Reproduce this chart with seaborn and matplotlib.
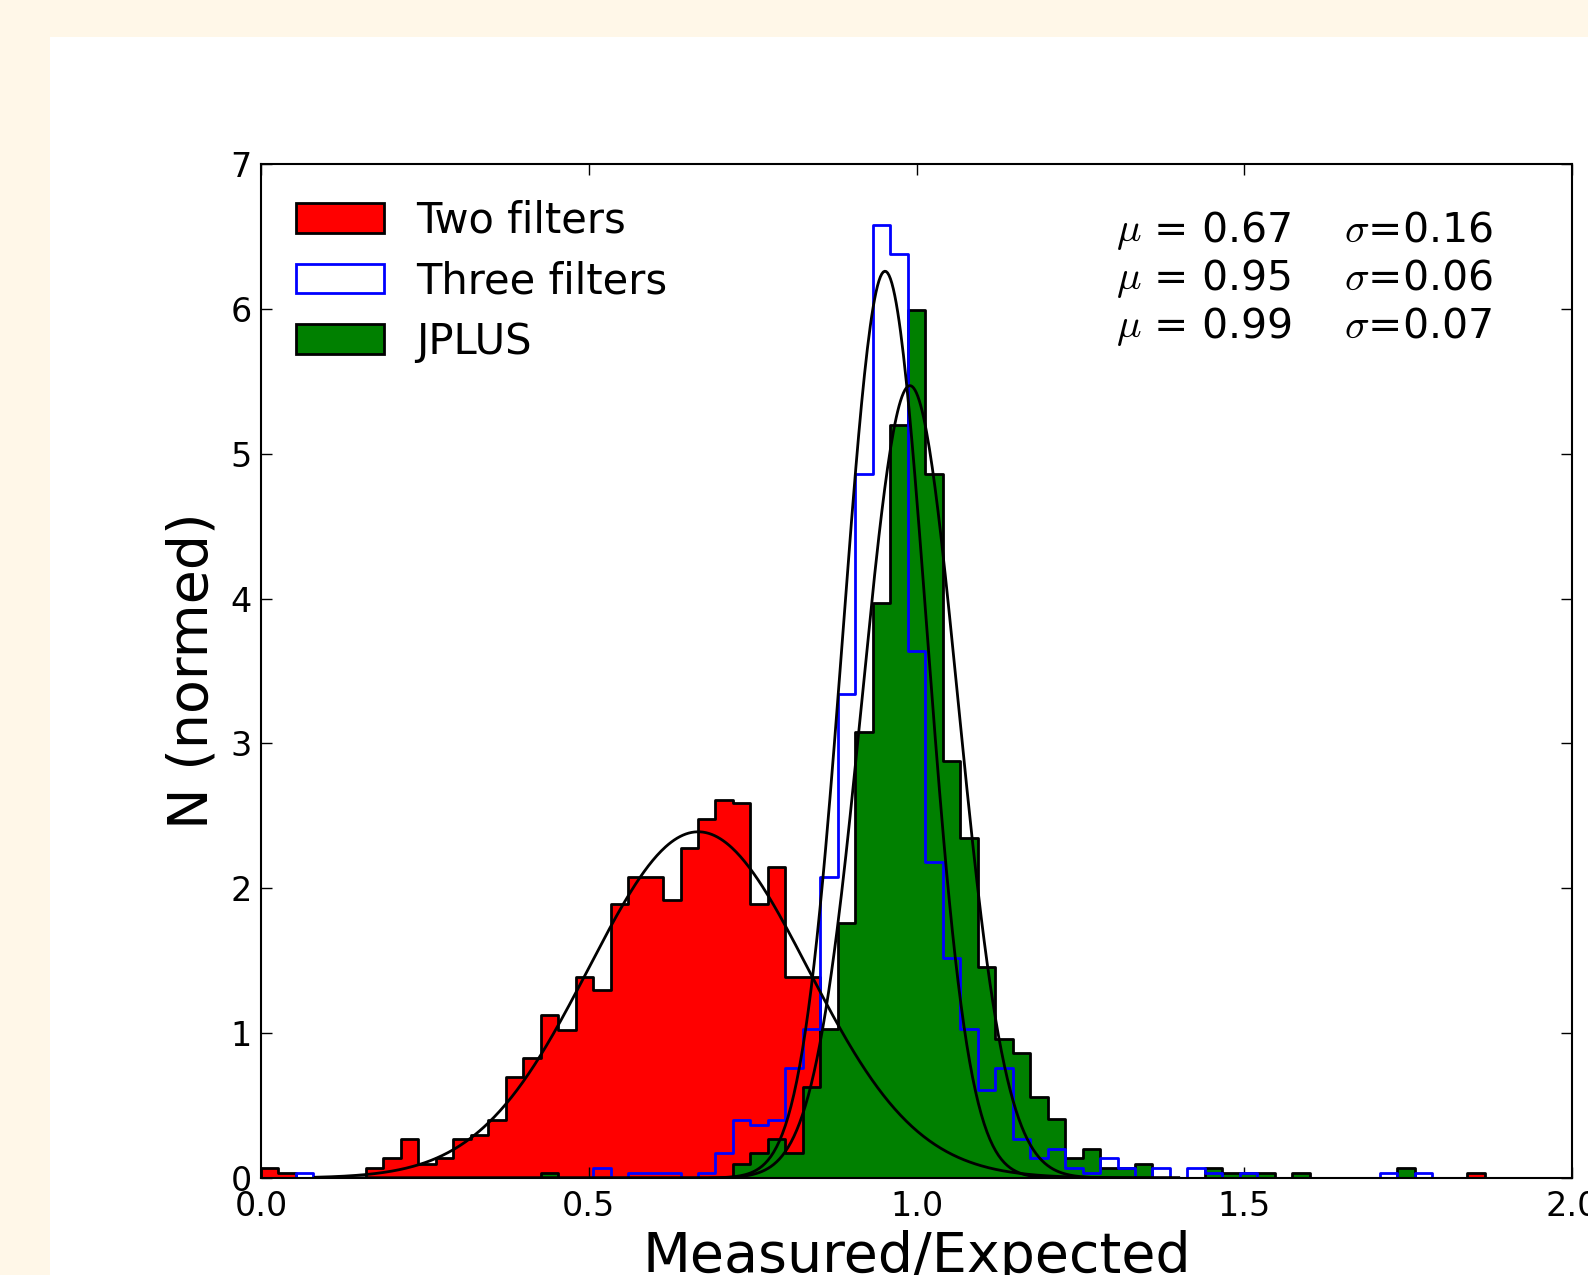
import numpy as np
import pandas as pd
import matplotlib
matplotlib.use("Agg")
import matplotlib.pyplot as plt
import seaborn as sns
from matplotlib.patches import Patch, Rectangle

# ---------------- data ----------------
BIN_MIN, BIN_MAX, N_BINS = 0.0, 2.0, 75

TWO_FILTERS = [
    0.071, 0.035, 0.0, 0.0, 0.0, 0.0, 0.071, 0.14, 0.27, 0.10,
    0.136, 0.27, 0.297, 0.40, 0.695, 0.83, 1.125, 1.02, 1.39, 1.30,
    1.89, 2.08, 2.08, 1.92, 2.28, 2.48, 2.61, 2.59, 1.89, 2.15,
    1.39, 1.39, 0.85, 0.55, 0.40, 0.25, 0.17, 0.10, 0.07, 0.035,
    0.035, 0.0, 0.0, 0.0, 0.0, 0.0, 0.0, 0.0, 0.0, 0.0,
    0.0, 0.0, 0.0, 0.0, 0.0, 0.0, 0.0, 0.0, 0.0, 0.0,
    0.0, 0.0, 0.0, 0.0, 0.0, 0.0, 0.0, 0.0, 0.0, 0.035,
    0.0, 0.0, 0.0, 0.0, 0.0,
]

THREE_FILTERS = [
    0.0, 0.0, 0.035, 0.0, 0.0, 0.0, 0.0, 0.0, 0.0, 0.0,
    0.0, 0.0, 0.0, 0.0, 0.0, 0.0, 0.0, 0.0, 0.0, 0.067,
    0.0, 0.035, 0.035, 0.035, 0.0, 0.035, 0.17, 0.40, 0.366, 0.40,
    0.76, 1.03, 2.08, 3.34, 4.86, 6.58, 6.38, 3.64, 2.18, 1.52,
    1.03, 0.607, 0.76, 0.27, 0.136, 0.20, 0.067, 0.035, 0.136, 0.067,
    0.0, 0.067, 0.0, 0.067, 0.035, 0.0, 0.035, 0.0, 0.0, 0.0,
    0.0, 0.0, 0.0, 0.0, 0.035, 0.0, 0.035, 0.0, 0.0, 0.0,
    0.0, 0.0, 0.0, 0.0, 0.0,
]

JPLUS = [
    0.0, 0.0, 0.0, 0.0, 0.0, 0.0, 0.0, 0.0, 0.0, 0.0,
    0.0, 0.0, 0.0, 0.0, 0.0, 0.0, 0.035, 0.0, 0.0, 0.0,
    0.0, 0.0, 0.0, 0.0, 0.0, 0.0, 0.0, 0.10, 0.17, 0.27,
    0.17, 0.63, 1.03, 1.76, 3.08, 3.97, 5.20, 5.99, 4.86, 2.88,
    2.35, 1.46, 0.96, 0.865, 0.56, 0.405, 0.136, 0.20, 0.067, 0.067,
    0.10, 0.0, 0.0, 0.0, 0.067, 0.035, 0.035, 0.035, 0.0, 0.035,
    0.0, 0.0, 0.0, 0.0, 0.0, 0.067, 0.0, 0.0, 0.0, 0.0,
    0.0, 0.0, 0.0, 0.0, 0.0,
]

SERIES_LABELS = ["Two filters", "Three filters", "JPLUS"]

# fitted gaussians (values quoted in the panel, and the drawn curves)
FIT_MU = [0.67, 0.95, 0.99]
FIT_SIGMA = [0.16, 0.06, 0.07]
CURVE_CENTER = [0.667, 0.952, 0.990]
CURVE_WIDTH = [0.167, 0.0637, 0.0729]
CURVE_PEAK = [2.39, 6.26, 5.47]
CURVE_RANGE = (0.083, 1.40)

X_TICKS = [0.0, 0.5, 1.0, 1.5, 2.0]
X_TICKLABELS = ["0.0", "0.5", "1.0", "1.5", "2.0"]
Y_TICKS = [0, 1, 2, 3, 4, 5, 6, 7]
XLABEL = "Measured/Expected"
YLABEL = "N (normed)"

# ---------------- figure ----------------
plt.rcParams["font.family"] = ["DejaVu Sans"]
plt.rcParams["mathtext.fontset"] = "cm"

W, H = 1588, 1275
fig = plt.figure(figsize=(W / 100, H / 100), dpi=100)
fig.patch.set_facecolor("#FFF7E8")
fig.patches.append(Rectangle((50 / W, 0), 1 - 50 / W, 1 - 37 / H,
                             transform=fig.transFigure, facecolor="white",
                             edgecolor="none", zorder=-10))

ax = fig.add_axes([261 / W, 1 - 1178 / H, 1311 / W, 1014 / H])
ax.set_facecolor("white")

edges = np.linspace(BIN_MIN, BIN_MAX, N_BINS + 1)
centers = 0.5 * (edges[:-1] + edges[1:])
bin_list = [float(e) for e in edges]

LW = 2.0


def frame(vals):
    return pd.DataFrame({"x": centers, "w": np.asarray(vals, dtype=float)})


sns.histplot(data=frame(TWO_FILTERS), x="x", weights="w", bins=bin_list,
             element="step", fill=True, stat="count", color="#FF0000",
             alpha=1, edgecolor="black", linewidth=LW, ax=ax, zorder=1)
sns.histplot(data=frame(JPLUS), x="x", weights="w", bins=bin_list,
             element="step", fill=True, stat="count", color="#008000",
             alpha=1, edgecolor="black", linewidth=LW, ax=ax, zorder=2)
sns.histplot(data=frame(THREE_FILTERS), x="x", weights="w", bins=bin_list,
             element="step", fill=False, stat="count", color="#0000FF",
             alpha=1, linewidth=LW, ax=ax, zorder=3)

xs = np.linspace(CURVE_RANGE[0], CURVE_RANGE[1], 600)
for c, w, p in zip(CURVE_CENTER, CURVE_WIDTH, CURVE_PEAK):
    ys = p * np.exp(-0.5 * ((xs - c) / w) ** 2)
    sns.lineplot(x=xs, y=ys, color="black", linewidth=LW, ax=ax,
                 zorder=4, sort=False)

ax.set_xlim(BIN_MIN, BIN_MAX)
ax.set_ylim(0, 7)
ax.set_xticks(X_TICKS)
ax.set_xticklabels(X_TICKLABELS)
ax.set_yticks(Y_TICKS)
ax.tick_params(direction="in", length=8, width=1, top=True, right=True,
               labelsize=24, colors="black")
ax.tick_params(axis="x", pad=9)
ax.tick_params(axis="y", pad=6.5)
for s in ax.spines.values():
    s.set_linewidth(1.5)
    s.set_color("black")
    s.set_zorder(5)

ax.set_xlabel(XLABEL, fontsize=40, labelpad=5)
ax.set_ylabel(YLABEL, fontsize=40, labelpad=8)

handles = [
    Patch(facecolor="#FF0000", edgecolor="black", linewidth=LW),
    Patch(facecolor="white", edgecolor="#0000FF", linewidth=LW),
    Patch(facecolor="#008000", edgecolor="black", linewidth=LW),
]
ax.legend(handles=handles, labels=SERIES_LABELS, loc="upper left",
          frameon=False, fontsize=30, handlelength=2.1, handleheight=0.72,
          handletextpad=0.77, labelspacing=0.45, borderpad=0.4,
          borderaxespad=0.45)

for i, (mu, sg) in enumerate(zip(FIT_MU, FIT_SIGMA)):
    ax.text(0.652, 0.934 - 0.0472 * i,
            f"$\\mu$ = {mu:.2f}    $\\sigma$={sg:.2f}",
            transform=ax.transAxes, fontsize=29.5, ha="left", va="center")

fig.savefig("out.png", dpi=100, facecolor=fig.get_facecolor())
